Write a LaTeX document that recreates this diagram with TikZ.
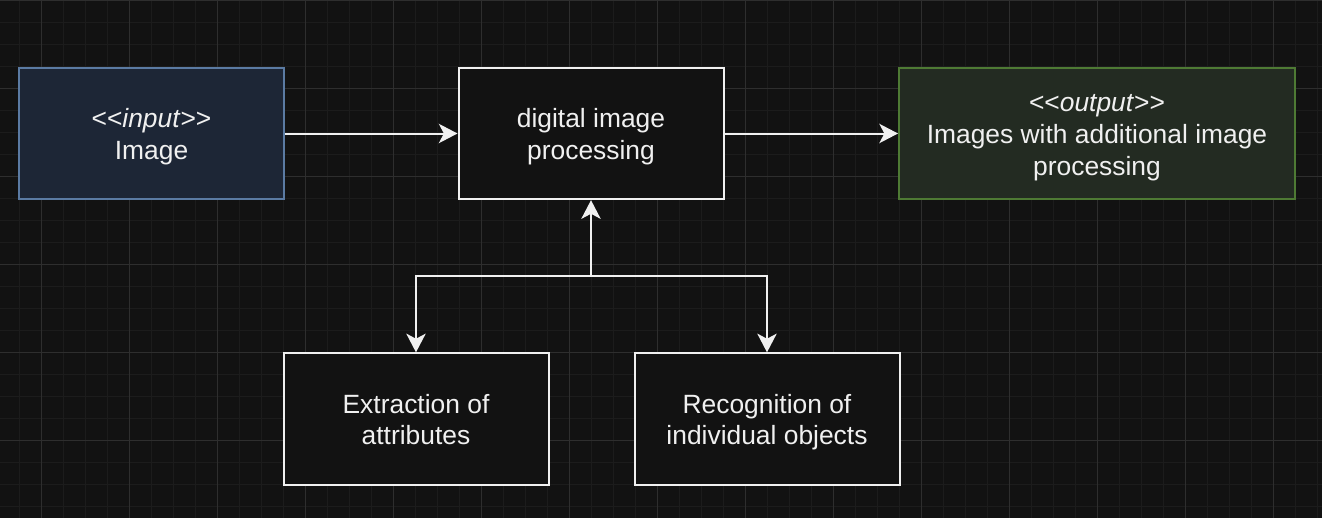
\documentclass[tikz,border=0pt]{standalone}
\usepackage{fontspec}
\setmainfont{Liberation Sans}
\usetikzlibrary{arrows.meta}
\definecolor{bg}{HTML}{121212}
\definecolor{gminor}{HTML}{1C1C1C}
\definecolor{gmajor}{HTML}{2E2E2E}
\definecolor{fg}{HTML}{F0F0F0}
\definecolor{inFill}{HTML}{1D2636}
\definecolor{inDraw}{HTML}{5B7BA3}
\definecolor{outFill}{HTML}{232B22}
\definecolor{outDraw}{HTML}{4E7A34}
\newcommand{\myll}{\textless\kern0pt\textless}
\newcommand{\mygg}{\textgreater\kern0pt\textgreater}
\newcommand{\tstrut}{\rule{0pt}{22pt}}
\begin{document}
\begin{tikzpicture}[x=0.75pt,y=-0.75pt,
  box/.style={draw=fg, fill=bg, line width=1.5pt, minimum width=198.75pt,
    minimum height=98.5pt, align=center, text=fg, inner sep=0pt,
    font=\fontsize{19.8}{23.76}\selectfont, execute at end node=\strut},
  inbox/.style={box, draw=inDraw, fill=inFill},
  outbox/.style={box, draw=outDraw, fill=outFill, minimum width=297pt},
  arr/.style={draw=fg, line width=1.5pt, -{Stealth[length=14pt,width=14.5pt,inset=3.8pt]}}]
\useasboundingbox (0,0) rectangle (1322,518);
\fill[bg] (0,0) rectangle (1322,518);
\foreach \x in {-3,19,...,1330} \draw[gminor, line width=0.75pt] (\x,0) -- (\x,518);
\foreach \y in {0,22,...,520} \draw[gminor, line width=0.75pt] (0,\y) -- (1322,\y);
\foreach \x in {41,129,...,1330} \draw[gmajor, line width=0.75pt] (\x,0) -- (\x,518);
\foreach \y in {0,88,...,520} \draw[gmajor, line width=0.75pt] (0,\y) -- (1322,\y);

\node[inbox] (in) at (151.5,133.5) {\tstrut\myll\textit{input}\mygg\\Image};
\node[box] (proc) at (591,133.5) {\tstrut digital image\\processing};
\node[outbox] (out) at (1097,133.5) {\tstrut\myll\textit{output}\mygg\\Images with additional image\\processing};
\node[box] (extr) at (416,419) {\tstrut Extraction of\\attributes};
\node[box] (recog) at (767,419) {\tstrut Recognition of\\individual objects};
\coordinate (j) at (591,276);

\draw[arr] (in) -- (proc);
\draw[arr] (proc) -- (out);
\draw[arr] (j) -- (proc.south);
\draw[arr] (j) -| (extr.north);
\draw[arr] (j) -| (recog.north);
\end{tikzpicture}
\end{document}
